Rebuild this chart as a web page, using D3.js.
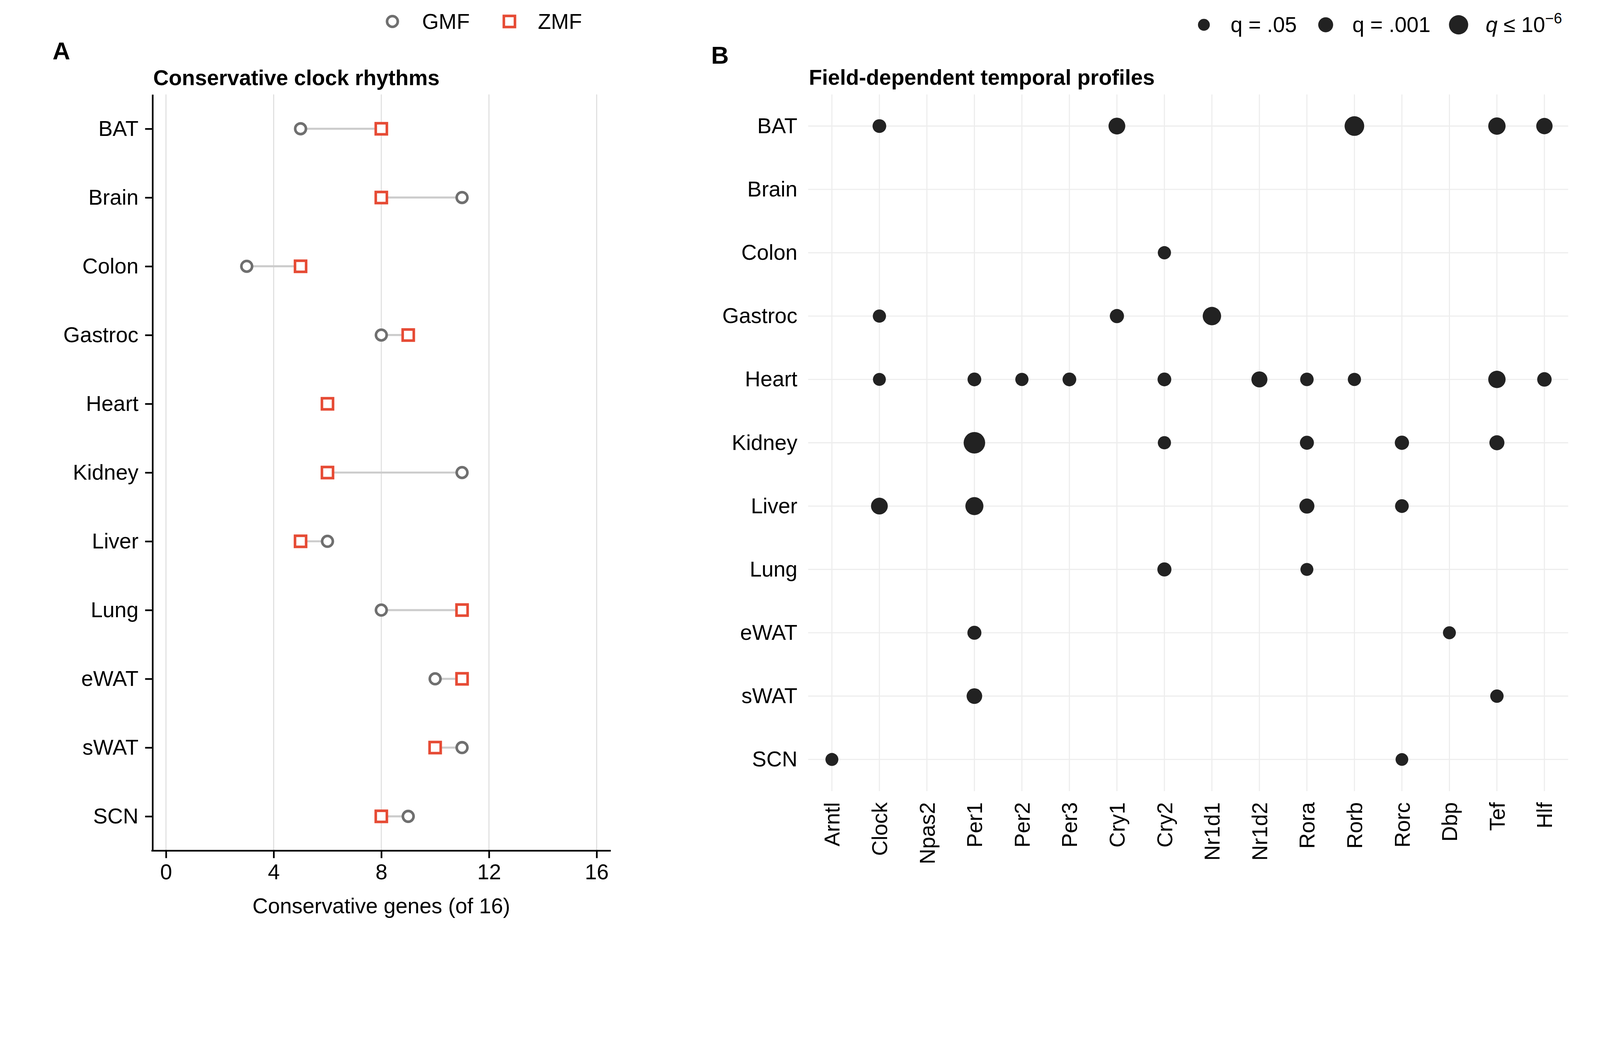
<!DOCTYPE html>
<html>
<head>
<meta charset="utf-8">
<script src="https://cdn.jsdelivr.net/npm/d3@7"></script>
<style>
  html, body { margin: 0; padding: 0; background: #fff; overflow: hidden; }
  svg { display: block; width: 100vw; height: calc(100vw * 2688 / 4322); }
  text { font-family: "Liberation Sans", Arial, Helvetica, sans-serif; }
</style>
</head>
<body>
<svg id="chart" viewBox="0 0 4322 2688" preserveAspectRatio="xMidYMin meet"></svg>
<script>
// ---------------- DATA ----------------
const tissues = ["BAT","Brain","Colon","Gastroc","Heart","Kidney","Liver","Lung","eWAT","sWAT","SCN"];
const gmfCounts = [5, 11, 3, 8, 6, 11, 6, 8, 10, 11, 9];
const zmfCounts = [8, 8, 5, 9, 6, 6, 5, 11, 11, 10, 8];
const xTicksA = [0, 4, 8, 12, 16];

const genes = ["Arntl","Clock","Npas2","Per1","Per2","Per3","Cry1","Cry2","Nr1d1","Nr1d2","Rora","Rorb","Rorc","Dbp","Tef","Hlf"];
// significant field-dependent profiles: [tissue, gene, -log10(q)]
const dotTissue = ["BAT","BAT","BAT","BAT","BAT",
  "Colon",
  "Gastroc","Gastroc","Gastroc",
  "Heart","Heart","Heart","Heart","Heart","Heart","Heart","Heart","Heart","Heart",
  "Kidney","Kidney","Kidney","Kidney","Kidney",
  "Liver","Liver","Liver","Liver",
  "Lung","Lung",
  "eWAT","eWAT",
  "sWAT","sWAT",
  "SCN","SCN"];
const dotGene = ["Clock","Cry1","Rorb","Tef","Hlf",
  "Cry2",
  "Clock","Cry1","Nr1d1",
  "Clock","Per1","Per2","Per3","Cry2","Nr1d2","Rora","Rorb","Tef","Hlf",
  "Per1","Cry2","Rora","Rorc","Tef",
  "Clock","Per1","Rora","Rorc",
  "Cry2","Rora",
  "Per1","Dbp",
  "Per1","Tef",
  "Arntl","Rorc"];
const dotNegLogQ = [2.28, 4.2, 6.3, 4.6, 3.9,
  2.0,
  2.0, 2.54, 5.36,
  1.85, 2.28, 2.0, 2.28, 2.28, 3.7, 2.15, 2.0, 4.6, 2.7,
  7.9, 2.0, 2.45, 2.58, 3.05,
  4.2, 5.1, 3.05, 2.28,
  2.5, 1.85,
  2.45, 1.85,
  3.4, 2.1,
  1.85, 1.73];
const sizeBreaks = [1.3, 3, 6];
const sizeLabels = ["q = .05", "q = .001", null];

// ---------------- SETUP ----------------
const svg = d3.select("#chart");
svg.append("rect").attr("width", 4322).attr("height", 2688).attr("fill", "#fff");
const FS = 58;
const grayC = "#6f6f6f", redC = "#e64b35";
const MSW = 7;

// ---------------- PANEL A ----------------
const xA = d3.scaleLinear().domain([-0.5, 16.5]).range([412, 1648]);
const yA = d3.scalePoint().domain(tissues).range([255, 2298]).padding(0.5);
const gA = svg.append("g");

gA.append("g").selectAll("line").data(xTicksA).join("line")
  .attr("x1", d => xA(d)).attr("x2", d => xA(d))
  .attr("y1", 255).attr("y2", 2298)
  .attr("stroke", "#e0e0e0").attr("stroke-width", 3);

const rowsA = tissues.map((t, i) => ({t, g: gmfCounts[i], z: zmfCounts[i]}));
gA.append("g").selectAll("line").data(rowsA).join("line")
  .attr("x1", d => xA(d.g)).attr("x2", d => xA(d.z))
  .attr("y1", d => yA(d.t)).attr("y2", d => yA(d.t))
  .attr("stroke", "#cccccc").attr("stroke-width", 5.5);

gA.append("g").selectAll("circle").data(rowsA).join("circle")
  .attr("cx", d => xA(d.g)).attr("cy", d => yA(d.t)).attr("r", 14.5)
  .attr("fill", "#fff").attr("stroke", grayC).attr("stroke-width", MSW);

gA.append("g").selectAll("rect").data(rowsA).join("rect")
  .attr("x", d => xA(d.z) - 15).attr("y", d => yA(d.t) - 15)
  .attr("width", 30).attr("height", 30)
  .attr("fill", "#fff").attr("stroke", redC).attr("stroke-width", MSW);

const axA = gA.append("g").attr("transform", "translate(0,2298)")
  .call(d3.axisBottom(xA).tickValues(xTicksA).tickSize(20).tickPadding(16).tickSizeOuter(0));
const ayA = gA.append("g").attr("transform", "translate(412,0)")
  .call(d3.axisLeft(yA).tickSize(20).tickPadding(18).tickSizeOuter(0));
[axA, ayA].forEach(a => {
  a.selectAll("path.domain").attr("stroke", "#000").attr("stroke-width", 4.5);
  a.selectAll(".tick line").attr("stroke", "#000").attr("stroke-width", 4.5);
  a.selectAll("text").attr("font-size", FS).attr("fill", "#000")
    .style("font-family", '"Liberation Sans", Arial, sans-serif');
});
axA.select("path.domain").attr("d", "M409,0H1650");

gA.append("text").attr("x", 1030).attr("y", 2467).attr("text-anchor", "middle")
  .attr("font-size", FS).text("Conservative genes (of 16)");
gA.append("text").attr("x", 414).attr("y", 230).attr("font-size", FS)
  .attr("font-weight", "bold").text("Conservative clock rhythms");
svg.append("text").attr("x", 142).attr("y", 160).attr("font-size", 66)
  .attr("font-weight", "bold").text("A");

// legend A
const legA = svg.append("g");
legA.append("circle").attr("cx", 1060).attr("cy", 58).attr("r", 14.5)
  .attr("fill", "#fff").attr("stroke", grayC).attr("stroke-width", MSW);
legA.append("text").attr("x", 1140).attr("y", 78).attr("font-size", FS).text("GMF");
legA.append("rect").attr("x", 1361).attr("y", 43).attr("width", 30).attr("height", 30)
  .attr("fill", "#fff").attr("stroke", redC).attr("stroke-width", MSW);
legA.append("text").attr("x", 1453).attr("y", 78).attr("font-size", FS).text("ZMF");

// ---------------- PANEL B ----------------
const xB = d3.scalePoint().domain(genes).range([2183, 4236]).padding(0.5);
const yB = d3.scalePoint().domain(tissues).range([255, 2137]).padding(0.5);
const rB = d3.scaleRadial().domain([1.3, 6]).range([16, 26]);
const gB = svg.append("g");

gB.append("g").selectAll("line").data(genes).join("line")
  .attr("x1", d => xB(d)).attr("x2", d => xB(d)).attr("y1", 255).attr("y2", 2137)
  .attr("stroke", "#ededed").attr("stroke-width", 3);
gB.append("g").selectAll("line").data(tissues).join("line")
  .attr("y1", d => yB(d)).attr("y2", d => yB(d)).attr("x1", 2183).attr("x2", 4236)
  .attr("stroke", "#ededed").attr("stroke-width", 3);

const dots = dotTissue.map((t, i) => ({t, g: dotGene[i], v: dotNegLogQ[i]}));
gB.append("g").selectAll("circle").data(dots).join("circle")
  .attr("cx", d => xB(d.g)).attr("cy", d => yB(d.t)).attr("r", d => rB(d.v))
  .attr("fill", "#222222");

const ayB = gB.append("g").attr("transform", "translate(2183,0)")
  .call(d3.axisLeft(yB).tickSize(0).tickPadding(29));
ayB.select("path.domain").remove();
ayB.selectAll("text").attr("font-size", FS).attr("fill", "#000")
  .style("font-family", '"Liberation Sans", Arial, sans-serif');

const axB = gB.append("g").attr("transform", "translate(0,2137)")
  .call(d3.axisBottom(xB).tickSize(0));
axB.select("path.domain").remove();
axB.selectAll("text").attr("font-size", FS).attr("fill", "#000")
  .style("font-family", '"Liberation Sans", Arial, sans-serif')
  .attr("transform", "rotate(-90)").attr("text-anchor", "end")
  .attr("x", -30).attr("y", 0).attr("dy", "0.35em");

gB.append("text").attr("x", 2185).attr("y", 229).attr("font-size", FS)
  .attr("font-weight", "bold").text("Field-dependent temporal profiles");
svg.append("text").attr("x", 1921).attr("y", 172).attr("font-size", 66)
  .attr("font-weight", "bold").text("B");

// legend B (size)
const legBx = [3252, 3581, 3940];
const legB = svg.append("g");
legB.selectAll("circle").data(sizeBreaks).join("circle")
  .attr("cx", (d, i) => legBx[i]).attr("cy", 67).attr("r", d => rB(d)).attr("fill", "#222222");
sizeLabels.forEach((lab, i) => {
  if (lab) {
    legB.append("text").attr("x", legBx[i] + 72).attr("y", 87).attr("font-size", FS).text(lab);
  }
});
const lt = legB.append("text").attr("x", 4013).attr("y", 87).attr("font-size", FS);
lt.append("tspan").attr("font-style", "italic").text("q");
lt.append("tspan").text(" \u2264 10");
lt.append("tspan").attr("font-size", 40).attr("dy", -24).text("\u22126");
</script>
</body>
</html>
